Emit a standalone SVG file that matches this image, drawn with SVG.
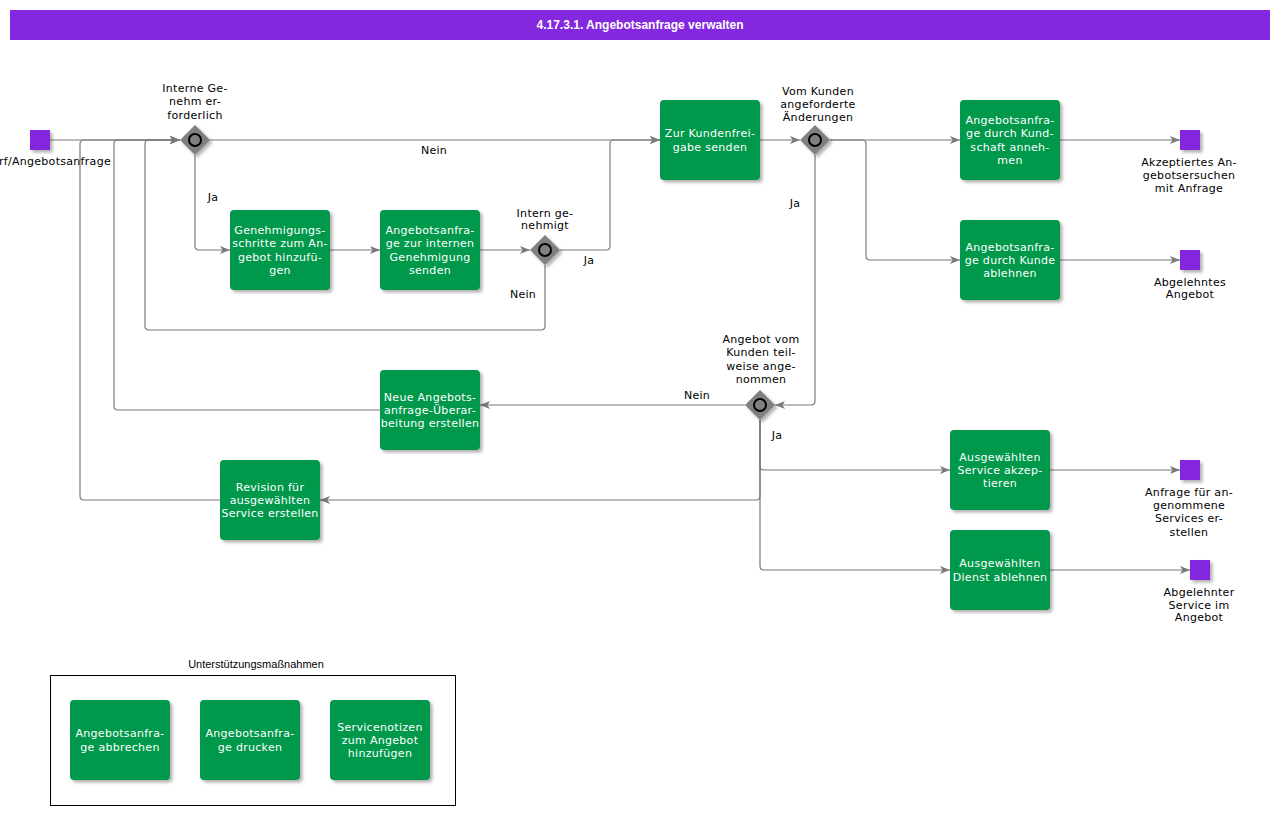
<svg xmlns="http://www.w3.org/2000/svg" width="1280" height="815" viewBox="0 0 1280 815">
<style>
.task rect.b{fill:#00994C;}
.task text{fill:#ffffff;font-family:"DejaVu Sans",Verdana,sans-serif;font-size:11px;text-anchor:middle;letter-spacing:0.3px;}
.lbl{fill:#000;font-family:"DejaVu Sans",Verdana,sans-serif;font-size:11px;text-anchor:middle;letter-spacing:0.3px;}
.ev{fill:#8428E0;}
.conn path{fill:none;stroke:#7a7a7a;stroke-width:1.2;}
.gw polygon{fill:#808080;}
.gw circle{fill:#808080;stroke:#000;stroke-width:2;}
</style>
<defs>
<marker id="arr" viewBox="0 0 10 8" refX="10" refY="4" markerWidth="10" markerHeight="8" markerUnits="userSpaceOnUse" orient="auto">
<path d="M0,0 L10,4 L0,8 L2.5,4 z" fill="#7a7a7a"/>
</marker>
<filter id="sh" x="-20%" y="-20%" width="150%" height="150%">
<feDropShadow dx="2.5" dy="2.5" stdDeviation="1.5" flood-color="#000" flood-opacity="0.3"/>
</filter>
</defs>
<rect width="1280" height="815" fill="#fff"/>
<g id="title">
<rect x="10" y="10" width="1260" height="30" fill="#8428E0"/>
<text x="640" y="29" fill="#fff" font-family="'Liberation Sans',Arial,sans-serif" font-size="12" font-weight="bold" text-anchor="middle">4.17.3.1. Angebotsanfrage verwalten</text>
</g>

<g id="connectors" class="conn">
<path d="M50,140 H180" marker-end="url(#arr)"/>
<path d="M210,140 H660" marker-end="url(#arr)"/>
<path d="M195,155 V246 Q195,250 199,250 H230" marker-end="url(#arr)"/>
<path d="M330,250 H380" marker-end="url(#arr)"/>
<path d="M480,250 H530" marker-end="url(#arr)"/>
<path d="M560,250 H606 Q610,250 610,246 V144 Q610,140 614,140 H660" marker-end="url(#arr)"/>
<path d="M545,265 V326 Q545,330 541,330 H149 Q145,330 145,326 V144 Q145,140 149,140 H180" marker-end="url(#arr)"/>
<path d="M760,140 H800" marker-end="url(#arr)"/>
<path d="M830,140 H960" marker-end="url(#arr)"/>
<path d="M830,140 H862 Q866,140 866,144 V256 Q866,260 870,260 H960" marker-end="url(#arr)"/>
<path d="M815,155 V401 Q815,405 811,405 H775" marker-end="url(#arr)"/>
<path d="M1060,140 H1180" marker-end="url(#arr)"/>
<path d="M1060,260 H1180" marker-end="url(#arr)"/>
<path d="M745,405 H480" marker-end="url(#arr)"/>
<path d="M380,410 H118 Q114,410 114,406 V144 Q114,140 118,140 H180" marker-end="url(#arr)"/>
<path d="M760,420 V496 Q760,500 756,500 H320" marker-end="url(#arr)"/>
<path d="M220,500 H84 Q80,500 80,496 V144 Q80,140 84,140 H180" marker-end="url(#arr)"/>
<path d="M760,420 V466 Q760,470 764,470 H950" marker-end="url(#arr)"/>
<path d="M760,420 V566 Q760,570 764,570 H950" marker-end="url(#arr)"/>
<path d="M1050,470 H1180" marker-end="url(#arr)"/>
<path d="M1050,570 H1190" marker-end="url(#arr)"/>
</g>

<g id="edge-labels" class="lbl">
<text x="434" y="154">Nein</text>
<text x="213" y="201">Ja</text>
<text x="589" y="264">Ja</text>
<text x="523" y="298">Nein</text>
<text x="795" y="207">Ja</text>
<text x="697" y="399">Nein</text>
<text x="777" y="439">Ja</text>
</g>

<g id="start">
<rect class="ev" x="30" y="130" width="20" height="20" filter="url(#sh)"/>
<text class="lbl" x="111" y="165" style="text-anchor:end">rf/Angebotsanfrage</text>
</g>

<g id="gw1" class="gw">
<polygon points="195,125 210,140 195,155 180,140" filter="url(#sh)"/>
<circle cx="195" cy="140" r="6"/>
<text class="lbl"><tspan x="195" y="92">Interne Ge-</tspan><tspan x="195" y="105.3">nehm er-</tspan><tspan x="195" y="118.6">forderlich</tspan></text>
</g>
<g id="gw2" class="gw">
<polygon points="545,235 560,250 545,265 530,250" filter="url(#sh)"/>
<circle cx="545" cy="250" r="6"/>
<text class="lbl"><tspan x="545" y="216.5">Intern ge-</tspan><tspan x="545" y="229">nehmigt</tspan></text>
</g>
<g id="gw3" class="gw">
<polygon points="815,125 830,140 815,155 800,140" filter="url(#sh)"/>
<circle cx="815" cy="140" r="6"/>
<text class="lbl"><tspan x="818" y="95">Vom Kunden</tspan><tspan x="818" y="108.3">angeforderte</tspan><tspan x="818" y="121">Änderungen</tspan></text>
</g>
<g id="gw4" class="gw">
<polygon points="760,390 775,405 760,420 745,405" filter="url(#sh)"/>
<circle cx="760" cy="405" r="6"/>
<text class="lbl"><tspan x="761" y="343">Angebot vom</tspan><tspan x="761" y="356.3">Kunden teil-</tspan><tspan x="761" y="369.6">weise ange-</tspan><tspan x="761" y="383">nommen</tspan></text>
</g>

<g id="t1" class="task"><rect class="b" x="230" y="210" width="100" height="80" rx="4" filter="url(#sh)"/>
<text><tspan x="280" y="234">Genehmigungs-</tspan><tspan x="280" y="247.3">schritte zum An-</tspan><tspan x="280" y="260.6">gebot hinzufü-</tspan><tspan x="280" y="274">gen</tspan></text></g>
<g id="t2" class="task"><rect class="b" x="380" y="210" width="100" height="80" rx="4" filter="url(#sh)"/>
<text><tspan x="430" y="234">Angebotsanfra-</tspan><tspan x="430" y="247.3">ge zur internen</tspan><tspan x="430" y="260.6">Genehmigung</tspan><tspan x="430" y="274">senden</tspan></text></g>
<g id="t3" class="task"><rect class="b" x="660" y="100" width="100" height="80" rx="4" filter="url(#sh)"/>
<text><tspan x="710" y="137.3">Zur Kundenfrei-</tspan><tspan x="710" y="150.6">gabe senden</tspan></text></g>
<g id="t4" class="task"><rect class="b" x="960" y="100" width="100" height="80" rx="4" filter="url(#sh)"/>
<text><tspan x="1010" y="124">Angebotsanfra-</tspan><tspan x="1010" y="137.3">ge durch Kund-</tspan><tspan x="1010" y="150.6">schaft anneh-</tspan><tspan x="1010" y="164">men</tspan></text></g>
<g id="t5" class="task"><rect class="b" x="960" y="220" width="100" height="80" rx="4" filter="url(#sh)"/>
<text><tspan x="1010" y="250.7">Angebotsanfra-</tspan><tspan x="1010" y="264">ge durch Kunde</tspan><tspan x="1010" y="277.3">ablehnen</tspan></text></g>
<g id="t6" class="task"><rect class="b" x="380" y="370" width="100" height="80" rx="4" filter="url(#sh)"/>
<text><tspan x="430" y="400.7">Neue Angebots-</tspan><tspan x="430" y="414">anfrage-Überar-</tspan><tspan x="430" y="427.3">beitung erstellen</tspan></text></g>
<g id="t7" class="task"><rect class="b" x="220" y="460" width="100" height="80" rx="4" filter="url(#sh)"/>
<text><tspan x="270" y="490.7">Revision für</tspan><tspan x="270" y="504">ausgewählten</tspan><tspan x="270" y="517.3">Service erstellen</tspan></text></g>
<g id="t8" class="task"><rect class="b" x="950" y="430" width="100" height="80" rx="4" filter="url(#sh)"/>
<text><tspan x="1000" y="460.7">Ausgewählten</tspan><tspan x="1000" y="474">Service akzep-</tspan><tspan x="1000" y="487.3">tieren</tspan></text></g>
<g id="t9" class="task"><rect class="b" x="950" y="530" width="100" height="80" rx="4" filter="url(#sh)"/>
<text><tspan x="1000" y="567.3">Ausgewählten</tspan><tspan x="1000" y="580.6">Dienst ablehnen</tspan></text></g>

<g id="e1"><rect class="ev" x="1180" y="130" width="20" height="20" filter="url(#sh)"/>
<text class="lbl"><tspan x="1189" y="165.5">Akzeptiertes An-</tspan><tspan x="1189" y="178.8">gebotsersuchen</tspan><tspan x="1189" y="192">mit Anfrage</tspan></text></g>
<g id="e2"><rect class="ev" x="1180" y="250" width="20" height="20" filter="url(#sh)"/>
<text class="lbl"><tspan x="1190" y="285.5">Abgelehntes</tspan><tspan x="1190" y="298">Angebot</tspan></text></g>
<g id="e3"><rect class="ev" x="1180" y="460" width="20" height="20" filter="url(#sh)"/>
<text class="lbl"><tspan x="1189" y="495.5">Anfrage für an-</tspan><tspan x="1189" y="508.8">genommene</tspan><tspan x="1189" y="522">Services er-</tspan><tspan x="1189" y="535.5">stellen</tspan></text></g>
<g id="e4"><rect class="ev" x="1190" y="560" width="20" height="20" filter="url(#sh)"/>
<text class="lbl"><tspan x="1199" y="595.5">Abgelehnter</tspan><tspan x="1199" y="608.8">Service im</tspan><tspan x="1199" y="621">Angebot</tspan></text></g>

<g id="support">
<text x="256" y="668" font-family="'Liberation Sans',Arial,sans-serif" font-size="11" text-anchor="middle" fill="#000">Unterstützungsmaßnahmen</text>
<rect x="50.5" y="675.5" width="405" height="130" fill="none" stroke="#000" stroke-width="1"/>
</g>
<g id="s1" class="task"><rect class="b" x="70" y="700" width="100" height="80" rx="4" filter="url(#sh)"/>
<text><tspan x="120" y="737.3">Angebotsanfra-</tspan><tspan x="120" y="750.6">ge abbrechen</tspan></text></g>
<g id="s2" class="task"><rect class="b" x="200" y="700" width="100" height="80" rx="4" filter="url(#sh)"/>
<text><tspan x="250" y="737.3">Angebotsanfra-</tspan><tspan x="250" y="750.6">ge drucken</tspan></text></g>
<g id="s3" class="task"><rect class="b" x="330" y="700" width="100" height="80" rx="4" filter="url(#sh)"/>
<text><tspan x="380" y="730.7">Servicenotizen</tspan><tspan x="380" y="744">zum Angebot</tspan><tspan x="380" y="757.3">hinzufügen</tspan></text></g>
</svg>
